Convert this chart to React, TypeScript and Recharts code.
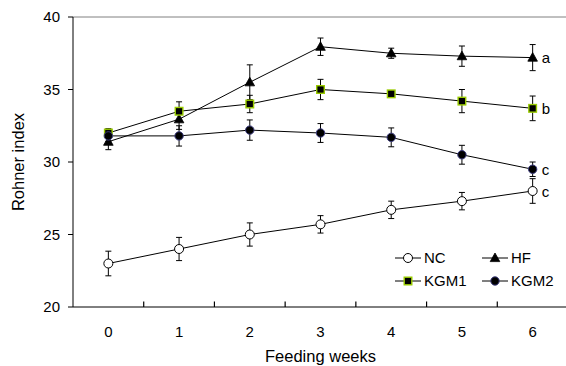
import React from "react";
import {
  LineChart,
  Line,
  XAxis,
  YAxis,
  ErrorBar,
  Legend,
  LabelList,
  ReferenceLine,
} from "recharts";

const weeks = [0, 1, 2, 3, 4, 5, 6];
const nc = [23.0, 24.0, 25.0, 25.7, 26.7, 27.3, 28.0];
const ncErr = [0.85, 0.8, 0.8, 0.6, 0.6, 0.6, 0.85];
const hf = [31.4, 32.95, 35.5, 37.95, 37.5, 37.3, 37.2];
const hfErr = [0.55, 0.7, 1.2, 0.6, 0.35, 0.7, 0.9];
const kgm1 = [32.0, 33.5, 34.0, 35.0, 34.7, 34.2, 33.7];
const kgm1Err = [0.3, 0.65, 0.6, 0.7, 0.2, 0.8, 0.85];
const kgm2 = [31.8, 31.8, 32.2, 32.0, 31.7, 30.5, 29.5];
const kgm2Err = [0.4, 0.7, 0.7, 0.65, 0.65, 0.65, 0.5];
const yTicks = [20, 25, 30, 35, 40];
// x-axis tick marks sit between the week labels
const minorTicks = [0.5, 1.5, 2.5, 3.5, 4.5, 5.5];

type Shape = "circle" | "triangle" | "square";

const series = [
  { name: "NC", values: nc, errs: ncErr, shape: "circle" as Shape, fill: "#ffffff", stroke: "#000000", letter: "c" },
  { name: "HF", values: hf, errs: hfErr, shape: "triangle" as Shape, fill: "#000000", stroke: "#000000", letter: "a" },
  { name: "KGM1", values: kgm1, errs: kgm1Err, shape: "square" as Shape, fill: "#000000", stroke: "#99cc00", letter: "b" },
  { name: "KGM2", values: kgm2, errs: kgm2Err, shape: "circle" as Shape, fill: "#000000", stroke: "#3c3c80", letter: "c" },
];

const data = weeks.map((week, i) => {
  const row: Record<string, number> = { week };
  series.forEach((s) => {
    row[s.name] = s.values[i];
    row[s.name + "_err"] = s.errs[i];
  });
  return row;
});

const FONT = "'Liberation Sans', Arial, sans-serif";

function Marker({ cx, cy, shape, fill, stroke }: { cx: number; cy: number; shape: Shape; fill: string; stroke: string }) {
  if (shape === "triangle") {
    return (
      <polygon
        points={`${cx},${cy - 5} ${cx - 4.8},${cy + 3.6} ${cx + 4.8},${cy + 3.6}`}
        fill={fill}
        stroke={stroke}
        strokeWidth={0.8}
      />
    );
  }
  if (shape === "square") {
    return <rect x={cx - 3.8} y={cy - 3.8} width={7.6} height={7.6} fill={fill} stroke={stroke} strokeWidth={1.4} />;
  }
  return <circle cx={cx} cy={cy} r={fill === "#ffffff" ? 4.5 : 4.2} fill={fill} stroke={stroke} strokeWidth={1} />;
}

function LegendBox() {
  return (
    <div
      style={{
        display: "grid",
        gridTemplateColumns: "87px 87px",
        rowGap: 5,
        fontFamily: FONT,
        fontSize: 15,
        color: "#000",
      }}
    >
      {series.map((s) => (
        <div key={s.name} style={{ display: "flex", alignItems: "center", height: 18 }}>
          <svg width={26} height={14} style={{ overflow: "visible" }}>
            <line x1={0} x2={26} y1={7} y2={7} stroke="#000" strokeWidth={1} />
            <Marker cx={13} cy={7} shape={s.shape} fill={s.fill} stroke={s.stroke} />
          </svg>
          <span style={{ marginLeft: 3, lineHeight: "18px" }}>{s.name}</span>
        </div>
      ))}
    </div>
  );
}

export default function App() {
  return (
    <div style={{ position: "absolute", left: 0, top: 0, width: 566, height: 366, overflow: "hidden", background: "#fff" }}>
      <LineChart width={570} height={366} data={data} margin={{ top: 17, right: 2, bottom: 0, left: 0 }}>
        <XAxis
          dataKey="week"
          type="number"
          domain={[-0.5, 6.5]}
          ticks={weeks}
          interval={0}
          height={59}
          tickLine={false}
          tickSize={6}
          tickMargin={13}
          axisLine={{ stroke: "#000", strokeWidth: 1 }}
          tick={{ fill: "#000", fontSize: 15, fontFamily: FONT }}
          allowDataOverflow
          label={({ viewBox }: any) => (
            <text
              x={viewBox.x + viewBox.width / 2}
              y={362}
              textAnchor="middle"
              fill="#000"
              fontSize={16.5}
              fontFamily={FONT}
            >
              Feeding weeks
            </text>
          )}
        />
        <YAxis
          domain={[20, 40]}
          ticks={yTicks}
          interval={0}
          width={73}
          tickSize={5}
          tickMargin={8}
          axisLine={{ stroke: "#000", strokeWidth: 1 }}
          tickLine={{ stroke: "#000", strokeWidth: 1 }}
          tick={{ fill: "#000", fontSize: 15, fontFamily: FONT }}
          label={({ viewBox }: any) => (
            <text
              x={18}
              y={viewBox.y + viewBox.height / 2}
              transform={`rotate(-90 18 ${viewBox.y + viewBox.height / 2})`}
              textAnchor="middle"
              dominantBaseline="central"
              fill="#000"
              fontSize={16.5}
              fontFamily={FONT}
            >
              Rohner index
            </text>
          )}
        />
        <ReferenceLine y={40} stroke="#808080" strokeWidth={1} />
        {minorTicks.map((t) => (
          <ReferenceLine
            key={t}
            segment={[{ x: t, y: 20 }, { x: t, y: 20.38 }]}
            stroke="#000"
            strokeWidth={1.2}
            ifOverflow="visible"
          />
        ))}
        {series.map((s) => (
          <Line
            key={s.name}
            dataKey={s.name}
            name={s.name}
            type="linear"
            stroke="#000"
            strokeWidth={1}
            isAnimationActive={false}
            dot={(p: any) => (
              <Marker key={`${s.name}-${p.index}`} cx={p.cx} cy={p.cy} shape={s.shape} fill={s.fill} stroke={s.stroke} />
            )}
            activeDot={false}
          >
            <ErrorBar dataKey={s.name + "_err"} width={3} stroke="#000" strokeWidth={1} direction="y" isAnimationActive={false} />
            <LabelList
              dataKey={s.name}
              content={(p: any) =>
                p.index === weeks.length - 1 ? (
                  <text
                    x={p.x + 9}
                    y={p.y}
                    dominantBaseline="central"
                    fill="#000"
                    fontSize={15}
                    fontFamily={FONT}
                  >
                    {s.letter}
                  </text>
                ) : null
              }
            />
          </Line>
        ))}
        <Legend
          layout="horizontal"
          verticalAlign="middle"
          align="center"
          content={() => <LegendBox />}
          wrapperStyle={{ left: 395, top: 249, width: 180 }}
        />
      </LineChart>
    </div>
  );
}
